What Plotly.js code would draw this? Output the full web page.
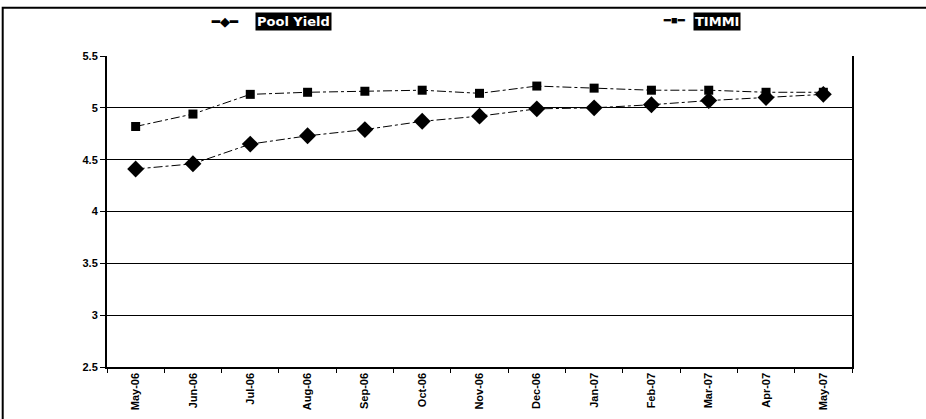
<!DOCTYPE html>
<html>
<head>
<meta charset="utf-8">
<script src="https://cdn.plot.ly/plotly-3.0.1.min.js"></script>
<style>html,body{margin:0;padding:0;background:#fff;}#chart{width:926px;height:419px;}</style>
</head>
<body>
<div id="chart"></div>
<script>
const months = ["May-06","Jun-06","Jul-06","Aug-06","Sep-06","Oct-06","Nov-06","Dec-06","Jan-07","Feb-07","Mar-07","Apr-07","May-07"];
const poolYield = [4.41,4.46,4.65,4.73,4.79,4.87,4.92,4.99,5.00,5.03,5.07,5.10,5.13];
const timmi = [4.82,4.94,5.13,5.15,5.16,5.17,5.14,5.21,5.19,5.17,5.17,5.15,5.15];
const yTicks = [2.5,3,3.5,4,4.5,5,5.5];
const yTickText = ["2.5","3","3.5","4","4.5","5","5.5"];

const traces = [
  {x: months, y: poolYield, name: "Pool Yield", type: "scatter", mode: "lines+markers",
   line: {color: "#000", width: 1, dash: "dashdot"},
   marker: {symbol: "diamond", size: 13, color: "#000"}},
  {x: months, y: timmi, name: "TIMMI", type: "scatter", mode: "lines+markers",
   line: {color: "#000", width: 1, dash: "dashdot"},
   marker: {symbol: "square", size: 9, color: "#000"}}
];

const legendFont = "DejaVu Sans, Verdana, sans-serif";
const layout = {
  width: 926, height: 419,
  margin: {l: 107, r: 74, t: 56, b: 52},
  paper_bgcolor: "#fff", plot_bgcolor: "#fff",
  showlegend: false,
  font: {family: "Liberation Sans, Arial, sans-serif", color: "#000"},
  xaxis: {
    type: "category", range: [-0.5, 12.5], autorange: false, tickangle: -90, showgrid: false,
    tickfont: {size: 11, family: "Liberation Sans, Arial, sans-serif", weight: "bold"},
    ticks: "outside", ticklen: 4, tickcolor: "#000", tickson: "boundaries",
    showline: true, linecolor: "#000", linewidth: 1.5, mirror: false,
    zeroline: false
  },
  yaxis: {
    range: [2.5, 5.5], tickvals: yTicks, ticktext: yTickText,
    tickfont: {size: 11, family: "Liberation Sans, Arial, sans-serif", weight: "bold"},
    ticks: "outside", ticklen: 5, tickcolor: "#000",
    showgrid: true, gridcolor: "#000", gridwidth: 1,
    showline: true, linecolor: "#000", linewidth: 2, mirror: true,
    zeroline: false
  },
  shapes: [
    {type: "rect", xref: "paper", yref: "paper", x0: -0.14, x1: 1.3, y0: -0.3, y1: 1.155,
     line: {color: "#000", width: 2}, fillcolor: "rgba(0,0,0,0)"}
  ],
  annotations: [
    {xref: "paper", yref: "paper", x: 0.158, y: 1.14, xanchor: "center", text: "<b>━</b>◆<b>━</b>", showarrow: false,
     font: {size: 13, color: "#000"}},
    {xref: "paper", yref: "paper", x: 0.251, y: 1.14, xanchor: "center", text: "<b>Pool Yield</b>", showarrow: false,
     bgcolor: "#000", borderpad: 1, font: {size: 13, color: "#fff", family: legendFont}},
    {xref: "paper", yref: "paper", x: 0.761, y: 1.14, xanchor: "center", text: "<b>━</b>■<b>━</b>", showarrow: false,
     font: {size: 11, color: "#000"}},
    {xref: "paper", yref: "paper", x: 0.819, y: 1.14, xanchor: "center", text: "<b>TIMMI</b>", showarrow: false,
     bgcolor: "#000", borderpad: 1, font: {size: 13, color: "#fff", family: legendFont}}
  ]
};
Plotly.newPlot("chart", traces, layout, {staticPlot: true, displayModeBar: false});
</script>
</body>
</html>
